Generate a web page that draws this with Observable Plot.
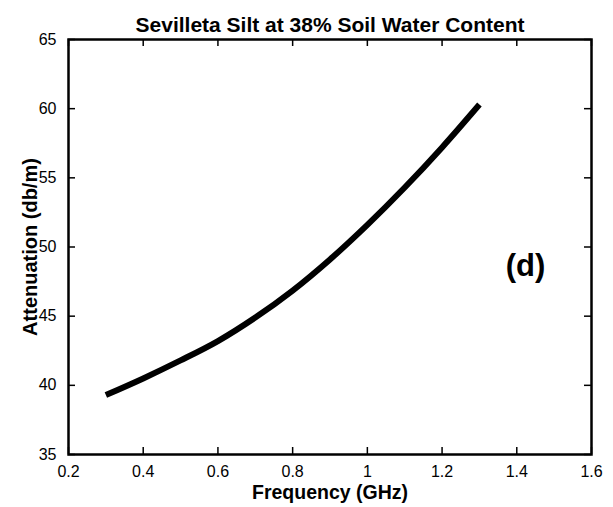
<!DOCTYPE html>
<html>
<head>
<meta charset="utf-8">
<script src="https://cdn.jsdelivr.net/npm/d3@7"></script>
<script src="https://cdn.jsdelivr.net/npm/@observablehq/plot@0.6"></script>
<style>
  body { margin: 0; background: #fff; }
  svg { font-family: "Liberation Sans", Arial, sans-serif; }
</style>
</head>
<body>
<div id="chart"></div>
<script>
const frequency = [0.3, 0.4, 0.5, 0.6, 0.7, 0.8, 0.9, 1.0, 1.1, 1.2, 1.3];
const attenuation = [39.3, 40.5, 41.8, 43.2, 44.9, 46.85, 49.1, 51.6, 54.3, 57.2, 60.3];
const xTicks = [0.2, 0.4, 0.6, 0.8, 1.0, 1.2, 1.4, 1.6];
const yTicks = [35, 40, 45, 50, 55, 60, 65];
const title = "Sevilleta Silt at 38% Soil Water Content";
const xLabel = "Frequency (GHz)";
const yLabel = "Attenuation (db/m)";
const panelLabel = "(d)";

const data = frequency.map((f, i) => ({f, a: attenuation[i]}));

const W = 613, H = 507;
const mL = 68, mR = 22, mT = 39, mB = 53;
const fw = W - mL - mR, fh = H - mT - mB;
const tl = 7;

const chart = Plot.plot({
  width: W,
  height: H,
  marginLeft: mL,
  marginRight: mR,
  marginTop: mT,
  marginBottom: mB,
  style: {fontFamily: "'Liberation Sans', Arial, sans-serif", background: "#fff", color: "#000"},
  x: {domain: [0.2, 1.6]},
  y: {domain: [35, 65]},
  marks: [
    Plot.axisX(xTicks, {anchor: "bottom", tickSize: 0, tickPadding: 11, fontSize: 16, label: null, tickFormat: d => String(d)}),
    Plot.axisY(yTicks, {anchor: "left", tickSize: 0, tickPadding: 12, fontSize: 16, label: null}),
    Plot.tickX(xTicks, {x: d => d, insetTop: fh - tl, stroke: "#000", strokeWidth: 1.5}),
    Plot.tickX(xTicks, {x: d => d, insetBottom: fh - tl, stroke: "#000", strokeWidth: 1.5}),
    Plot.tickY(yTicks, {y: d => d, insetRight: fw - tl, stroke: "#000", strokeWidth: 1.5}),
    Plot.tickY(yTicks, {y: d => d, insetLeft: fw - tl, stroke: "#000", strokeWidth: 1.5}),
    Plot.line(data, {x: "f", y: "a", curve: "catmull-rom", stroke: "#000", strokeWidth: 6, strokeLinecap: "butt"}),
    Plot.frame({stroke: "#000", strokeWidth: 2.5}),
    Plot.text([title], {text: d => d, frameAnchor: "top", textAnchor: "middle", lineAnchor: "middle", dy: -14.5, fontSize: 21, fontWeight: "bold", fill: "#000"}),
    Plot.text([xLabel], {text: d => d, frameAnchor: "bottom", textAnchor: "middle", lineAnchor: "middle", dy: 38, fontSize: 19.5, fontWeight: "bold", fill: "#000"}),
    Plot.text([yLabel], {text: d => d, frameAnchor: "left", textAnchor: "middle", lineAnchor: "middle", dx: -38, rotate: -90, fontSize: 20, fontWeight: "bold", fill: "#000"}),
    Plot.text([panelLabel], {text: d => d, frameAnchor: "right", textAnchor: "middle", lineAnchor: "middle", dx: -66, dy: 19.5, fontSize: 31, fontWeight: "bold", fill: "#000"})
  ]
});
document.getElementById("chart").appendChild(chart);
</script>
</body>
</html>
